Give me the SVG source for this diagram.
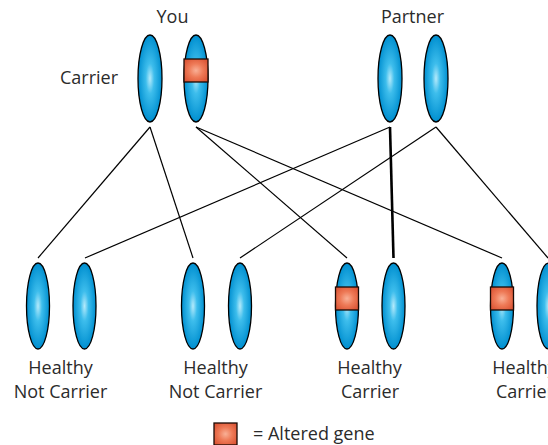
<svg xmlns="http://www.w3.org/2000/svg" width="548" height="445" viewBox="0 0 548 445">
<defs>
<radialGradient id="blue" cx="0.5" cy="0.5" r="0.5">
<stop offset="0" stop-color="#b4eafb"/>
<stop offset="0.35" stop-color="#3dbdec"/>
<stop offset="1" stop-color="#008fd0"/>
</radialGradient>
<radialGradient id="red" cx="0.5" cy="0.5" r="0.6">
<stop offset="0" stop-color="#f9b096"/>
<stop offset="0.5" stop-color="#ee7a57"/>
<stop offset="1" stop-color="#dc5636"/>
</radialGradient>
</defs>
<style>
.chr{fill:url(#blue);stroke:#000;stroke-width:1.3}
.gene{fill:url(#red);stroke:#1a0a05;stroke-width:1.3}
.ln{stroke:#000;stroke-width:1.2;fill:none}
.thick{stroke-width:2.6}
text{font-family:"Open Sans","Liberation Sans",sans-serif;font-size:18px;fill:#2b2b2b;text-anchor:middle}
</style>
<g id="connectors">
<line class="ln" x1="150" y1="127" x2="38" y2="258"/>
<line class="ln" x1="150" y1="127" x2="193" y2="258"/>
<line class="ln" x1="196" y1="127" x2="347" y2="258"/>
<line class="ln" x1="196" y1="127" x2="502" y2="258"/>
<line class="ln" x1="390" y1="127" x2="85" y2="258"/>
<line class="ln thick" x1="390" y1="127" x2="393.5" y2="258"/>
<line class="ln" x1="436" y1="127" x2="240" y2="258"/>
<line class="ln" x1="436" y1="127" x2="548" y2="258"/>
</g>
<g id="you">
<text x="172.5" y="23">You</text>
<text x="89" y="84">Carrier</text>
<ellipse class="chr" cx="150" cy="78.5" rx="12" ry="43.5"/>
<ellipse class="chr" cx="196" cy="78.5" rx="12" ry="43.5"/>
<rect class="gene" x="184" y="59" width="24" height="23"/>
</g>
<g id="partner">
<text x="412.5" y="23">Partner</text>
<ellipse class="chr" cx="390" cy="78.5" rx="12" ry="43.5"/>
<ellipse class="chr" cx="436" cy="78.5" rx="12" ry="43.5"/>
</g>
<g id="child1">
<ellipse class="chr" cx="38" cy="306" rx="11.5" ry="43"/>
<ellipse class="chr" cx="84.5" cy="306" rx="11.5" ry="43"/>
<text x="60.5" y="374">Healthy</text>
<text x="60.5" y="397.5">Not Carrier</text>
</g>
<g id="child2">
<ellipse class="chr" cx="193" cy="306" rx="11.5" ry="43"/>
<ellipse class="chr" cx="240" cy="306" rx="11.5" ry="43"/>
<text x="215.5" y="374">Healthy</text>
<text x="215.5" y="397.5">Not Carrier</text>
</g>
<g id="child3">
<ellipse class="chr" cx="347" cy="306" rx="11.5" ry="43"/>
<rect class="gene" x="335.5" y="287" width="23" height="23"/>
<ellipse class="chr" cx="393.5" cy="306" rx="11.5" ry="43"/>
<text x="369.5" y="374">Healthy</text>
<text x="370" y="397.5">Carrier</text>
</g>
<g id="child4">
<ellipse class="chr" cx="502" cy="306" rx="11.5" ry="43"/>
<rect class="gene" x="490.5" y="287" width="23" height="23"/>
<ellipse class="chr" cx="548.5" cy="306" rx="11.5" ry="43"/>
<text x="524.5" y="374">Healthy</text>
<text x="525" y="397.5">Carrier</text>
</g>
<g id="legend">
<rect class="gene" x="214" y="423" width="23" height="22"/>
<text x="253" y="440" style="text-anchor:start">= Altered gene</text>
</g>
</svg>
